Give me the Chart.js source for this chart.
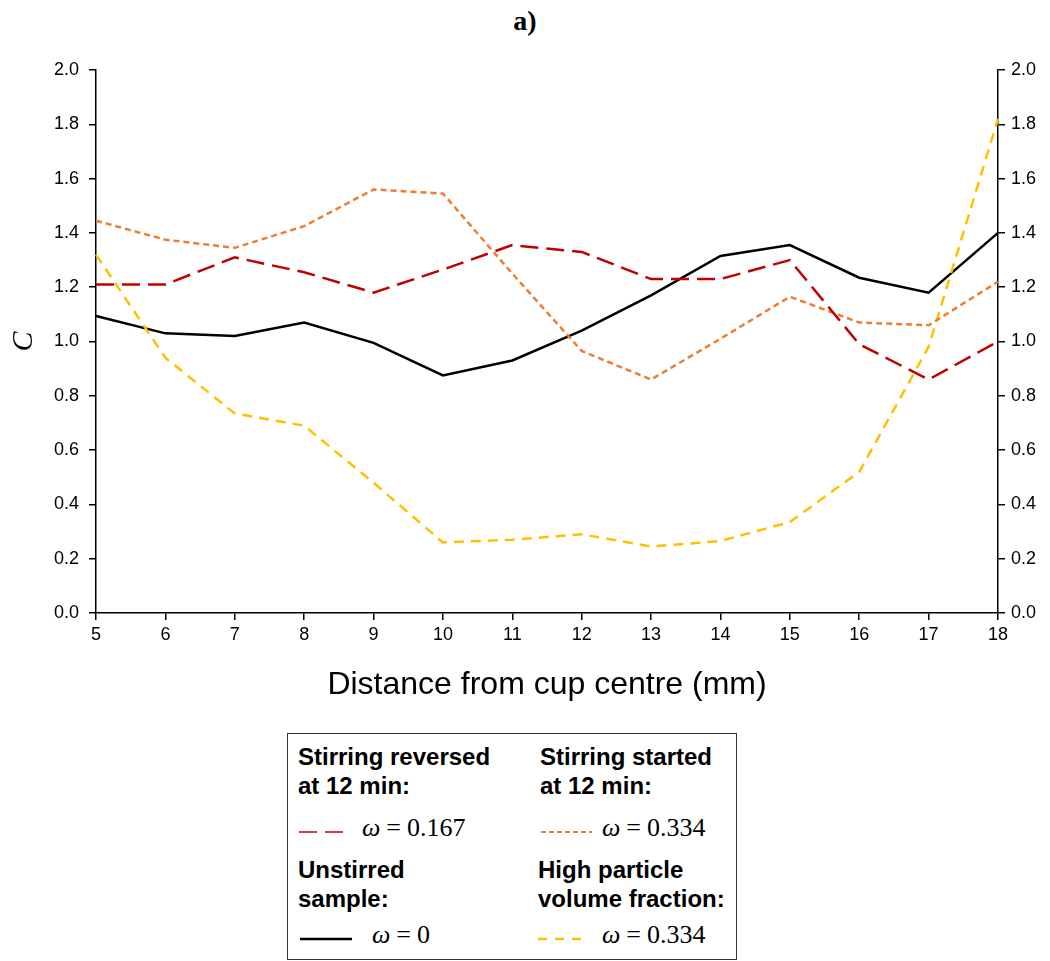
<!DOCTYPE html>
<html>
<head>
<meta charset="utf-8">
<script src="https://cdn.jsdelivr.net/npm/chart.js@4"></script>
<style>
  body { margin: 0; background: #fff; width: 1050px; height: 961px; position: relative; overflow: hidden; font-family: Arial, "Liberation Sans", sans-serif; }
  #title { position: absolute; left: 0; width: 1050px; top: 5px; text-align: center; font-family: "Liberation Serif", "Times New Roman", serif; font-weight: bold; font-size: 28px; }
  #wrap { position: absolute; left: 0; top: 0; width: 1050px; height: 715px; }
  #legend { position: absolute; left: 287px; top: 733px; width: 450px; height: 227px; border: 1.5px solid #333; box-sizing: border-box; }
  .lbl { position: absolute; font-weight: bold; font-size: 24px; line-height: 29px; color: #000; white-space: nowrap; }
  .math { position: absolute; font-family: "Liberation Serif", "DejaVu Serif", serif; font-size: 26px; white-space: nowrap; }
  .math i { font-style: italic; }
  .math span { padding: 0 6px; }
  svg { position: absolute; overflow: visible; }
</style>
</head>
<body>
<div id="title">a)</div>
<div id="wrap"><canvas id="balanceChart"></canvas></div>

<div id="legend">
  <div class="lbl" style="left:10px; top:8px;">Stirring reversed<br>at 12 min:</div>
  <div class="lbl" style="left:252px; top:8px;">Stirring started<br>at 12 min:</div>
  <svg style="left:11px; top:96px;" width="50" height="4"><line x1="0" y1="2" x2="46" y2="2" stroke="#D04040" stroke-width="2" stroke-dasharray="18,8"/></svg>
  <div class="math" style="left:74px; top:79px;"><i>ω</i><span>=</span>0.167</div>
  <svg style="left:253px; top:96px;" width="55" height="4"><line x1="0" y1="2" x2="51" y2="2" stroke="#ED7D31" stroke-width="2" stroke-dasharray="5,3"/></svg>
  <div class="math" style="left:314px; top:79px;"><i>ω</i><span>=</span>0.334</div>
  <div class="lbl" style="left:10px; top:121px;">Unstirred<br>sample:</div>
  <div class="lbl" style="left:250px; top:121px;">High particle<br>volume fraction:</div>
  <svg style="left:12px; top:203px;" width="55" height="4"><line x1="0" y1="2" x2="52" y2="2" stroke="#000" stroke-width="2.5"/></svg>
  <div class="math" style="left:84px; top:186px;"><i>ω</i><span>=</span>0</div>
  <svg style="left:250px; top:203px;" width="50" height="4"><line x1="0" y1="2" x2="45" y2="2" stroke="#FFC000" stroke-width="2.5" stroke-dasharray="9,8"/></svg>
  <div class="math" style="left:314px; top:186px;"><i>ω</i><span>=</span>0.334</div>
</div>

<script>
const distances = [5, 6, 7, 8, 9, 10, 11, 12, 13, 14, 15, 16, 17, 18];
const unstirred = [1.094, 1.03, 1.02, 1.07, 0.995, 0.875, 0.93, 1.04, 1.17, 1.315, 1.355, 1.235, 1.18, 1.40];
const reversed = [1.21, 1.21, 1.31, 1.255, 1.18, 1.265, 1.355, 1.33, 1.23, 1.23, 1.30, 0.99, 0.86, 1.0];
const started = [1.445, 1.375, 1.345, 1.425, 1.56, 1.545, 1.25, 0.965, 0.86, 1.01, 1.165, 1.07, 1.06, 1.22];
const highFraction = [1.32, 0.94, 0.735, 0.69, 0.48, 0.26, 0.27, 0.29, 0.245, 0.265, 0.335, 0.52, 0.98, 1.82];

const tickFont = { family: 'Arial, "Liberation Sans", sans-serif', size: 18 };

const ctx = document.getElementById('balanceChart').getContext('2d');
const chart = new Chart(ctx, {
  type: 'line',
  data: {
    labels: distances,
    datasets: [
      { label: 'reversed', data: reversed, borderColor: '#C00000', borderWidth: 2.5, borderDash: [18, 8], pointRadius: 0, tension: 0, yAxisID: 'y' },
      { label: 'started', data: started, borderColor: '#ED7D31', borderWidth: 2.5, borderDash: [6, 4], pointRadius: 0, tension: 0, yAxisID: 'y' },
      { label: 'high', data: highFraction, borderColor: '#FFC000', borderWidth: 2.5, borderDash: [10, 7], pointRadius: 0, tension: 0, yAxisID: 'y' },
      { label: 'unstirred', data: unstirred, borderColor: '#000000', borderWidth: 2.5, pointRadius: 0, tension: 0, yAxisID: 'y' }
    ]
  },
  options: {
    responsive: true,
    maintainAspectRatio: false,
    animation: false,
    layout: { padding: { top: 70, left: 0, right: 0, bottom: 0 } },
    plugins: { legend: { display: false }, tooltip: { enabled: false } },
    scales: {
      x: {
        type: 'category',
        offset: false,
        grid: { drawOnChartArea: false, drawTicks: true, tickLength: 7, color: '#000', lineWidth: 1.5 },
        border: { color: '#000', width: 1.5 },
        ticks: { color: '#000', font: tickFont, padding: 4, maxRotation: 0 },
        title: { display: true, text: 'Distance from cup centre (mm)', color: '#000', font: { family: 'Arial, "Liberation Sans", sans-serif', size: 32 }, padding: { top: 2, bottom: 11 } },
        afterFit: (s) => { s.height = 715 - 613; }
      },
      y: {
        position: 'left',
        min: 0, max: 2,
        grid: { drawOnChartArea: false, drawTicks: true, tickLength: 7, color: '#000', lineWidth: 1.5 },
        border: { color: '#000', width: 1.5 },
        ticks: { stepSize: 0.2, color: '#000', font: tickFont, padding: 10, callback: (v) => v.toFixed(1) },
        title: { display: true, text: 'C', color: '#000', font: { family: '"Liberation Serif", "Times New Roman", serif', size: 30, style: 'italic' }, padding: { top: 6, bottom: 0 } },
        afterFit: (s) => { s.width = 96; }
      },
      y2: {
        position: 'right',
        min: 0, max: 2,
        grid: { drawOnChartArea: false, drawTicks: true, tickLength: 7, color: '#000', lineWidth: 1.5 },
        border: { color: '#000', width: 1.5 },
        ticks: { stepSize: 0.2, color: '#000', font: tickFont, padding: 6, callback: (v) => v.toFixed(1) },
        afterFit: (s) => { s.width = 52; }
      }
    }
  }
});
</script>
</body>
</html>
